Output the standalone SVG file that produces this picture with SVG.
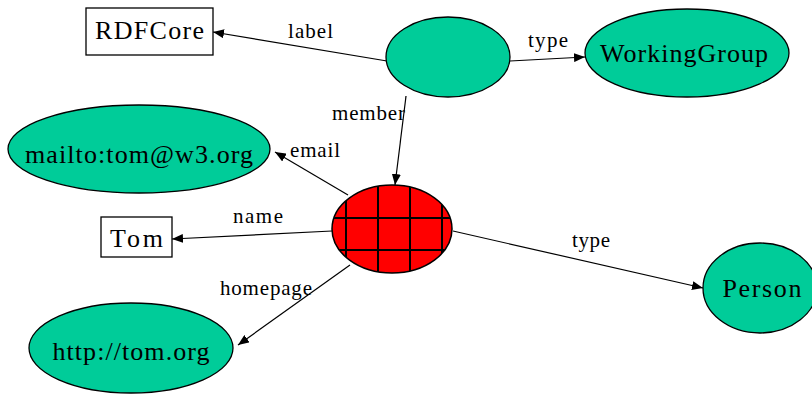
<svg xmlns="http://www.w3.org/2000/svg" width="812" height="394" viewBox="0 0 812 394" font-family="Liberation Serif, Times New Roman, serif">
  <style>
    .res { fill: #00CC99; stroke: #000; stroke-width: 1.3; }
    .lit { fill: #fff; stroke: #000; stroke-width: 1.3; }
    .edge { fill: none; stroke: #000; stroke-width: 1.2; marker-end: url(#arrow); }
    .grid { stroke: #000; stroke-width: 2; }
    .ntext { font-size: 26px; text-anchor: middle; fill: #000; }
    .etext { font-size: 21px; fill: #000; }
  </style>
  <defs>
    <marker id="arrow" markerUnits="userSpaceOnUse" markerWidth="11" markerHeight="9" refX="11" refY="4.5" orient="auto">
      <path d="M0,0 L11,4.5 L0,9 z" fill="#000"/>
    </marker>
    <clipPath id="blankClip">
      <ellipse cx="392" cy="229" rx="60" ry="44"/>
    </clipPath>
  </defs>

  <!-- connectors and their property labels -->
  <g id="edges">
    <line class="edge" x1="387" y1="61" x2="213" y2="32"/>
    <line class="edge" x1="510" y1="61" x2="585" y2="57"/>
    <line class="edge" x1="406" y1="96" x2="395" y2="185"/>
    <line class="edge" x1="348" y1="195" x2="275" y2="152"/>
    <line class="edge" x1="332" y1="231" x2="172" y2="239"/>
    <line class="edge" x1="350" y1="265" x2="238" y2="345"/>
    <line class="edge" x1="453" y1="231" x2="703" y2="288"/>
    <text class="etext" font-family="Liberation Serif, serif" x="288" y="38" textLength="45" lengthAdjust="spacing">label</text>
    <text class="etext" font-family="Liberation Serif, serif" x="528" y="47" textLength="40" lengthAdjust="spacing">type</text>
    <text class="etext" font-family="Liberation Serif, serif" x="332" y="120" textLength="73" lengthAdjust="spacing">member</text>
    <text class="etext" font-family="Liberation Serif, serif" x="290" y="157" textLength="50" lengthAdjust="spacing">email</text>
    <text class="etext" font-family="Liberation Serif, serif" x="233" y="223" textLength="50" lengthAdjust="spacing">name</text>
    <text class="etext" font-family="Liberation Serif, serif" x="220" y="295" textLength="92" lengthAdjust="spacing">homepage</text>
    <text class="etext" font-family="Liberation Serif, serif" x="572" y="247" textLength="38" lengthAdjust="spacing">type</text>
  </g>

  <!-- blank node: the group -->
  <g id="group">
    <ellipse class="res" cx="448" cy="57" rx="62" ry="40"/>
  </g>

  <g id="rdfcore">
    <rect class="lit" x="86" y="8" width="127" height="47"/>
    <text class="ntext" font-family="Liberation Serif, serif" x="149.5" y="39" textLength="109" lengthAdjust="spacing">RDFCore</text>
  </g>

  <g id="workinggroup">
    <ellipse class="res" cx="687" cy="53" rx="102" ry="44"/>
    <text class="ntext" font-family="Liberation Serif, serif" x="684" y="62" textLength="168" lengthAdjust="spacing">WorkingGroup</text>
  </g>

  <g id="mailbox">
    <ellipse class="res" cx="139" cy="149" rx="131" ry="44"/>
    <text class="ntext" font-family="Liberation Serif, serif" x="139" y="163" textLength="228" lengthAdjust="spacing">mailto:tom@w3.org</text>
  </g>

  <g id="tom">
    <rect class="lit" x="101" y="217" width="71" height="40"/>
    <text class="ntext" font-family="Liberation Serif, serif" x="136.5" y="247" textLength="53" lengthAdjust="spacing">Tom</text>
  </g>

  <!-- blank node: the member, cross-hatched -->
  <g id="member">
    <ellipse cx="392" cy="229" rx="60" ry="44" fill="#FF0000"/>
    <g clip-path="url(#blankClip)">
      <line class="grid" x1="346" y1="180" x2="346" y2="280"/>
      <line class="grid" x1="378" y1="180" x2="378" y2="280"/>
      <line class="grid" x1="410" y1="180" x2="410" y2="280"/>
      <line class="grid" x1="442" y1="180" x2="442" y2="280"/>
      <line class="grid" x1="325" y1="218" x2="460" y2="218"/>
      <line class="grid" x1="325" y1="250" x2="460" y2="250"/>
    </g>
    <ellipse cx="392" cy="229" rx="60" ry="44" fill="none" stroke="#000" stroke-width="1.5"/>
  </g>

  <g id="homepage">
    <ellipse class="res" cx="131" cy="348" rx="102" ry="45"/>
    <text class="ntext" font-family="Liberation Serif, serif" x="131" y="360" textLength="157" lengthAdjust="spacing">http://tom.org</text>
  </g>

  <g id="person">
    <ellipse class="res" cx="760" cy="288" rx="57" ry="45"/>
    <text class="ntext" font-family="Liberation Serif, serif" x="762" y="297" textLength="79" lengthAdjust="spacing">Person</text>
  </g>
</svg>
